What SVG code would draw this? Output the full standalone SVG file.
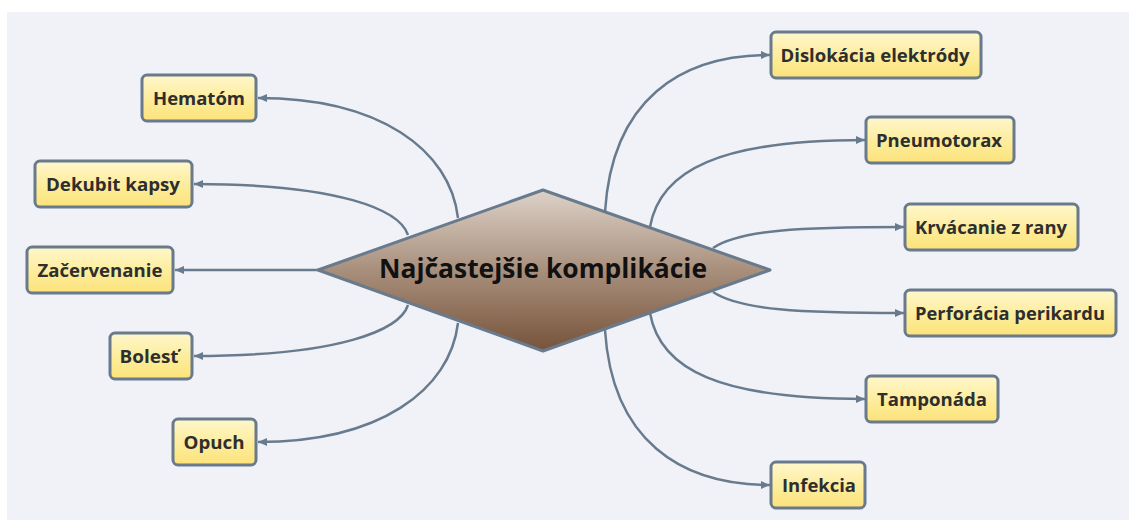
<svg xmlns="http://www.w3.org/2000/svg" width="1129" height="520" viewBox="0 0 1129 520">
  <defs>
    <linearGradient id="topicFill" x1="0" y1="0" x2="0" y2="1">
      <stop offset="0" stop-color="#fff7cc"/>
      <stop offset="0.55" stop-color="#fdec9a"/>
      <stop offset="1" stop-color="#fce27a"/>
    </linearGradient>
    <linearGradient id="centralFill" x1="0" y1="0" x2="0" y2="1">
      <stop offset="0" stop-color="#ddd2c8"/>
      <stop offset="0.5" stop-color="#a88f7c"/>
      <stop offset="1" stop-color="#77533a"/>
    </linearGradient>
    <marker id="arrow" markerUnits="userSpaceOnUse" markerWidth="10" markerHeight="10" viewBox="0 0 10 10" refX="9" refY="5" orient="auto">
      <path d="M0,1 L9,5 L0,9 Z" fill="#687b8e"/>
    </marker>
    <style>
      .topic rect { fill: url(#topicFill); stroke: #687a8c; stroke-width: 3; }
      .topic text { font-family: "Open Sans", "Noto Sans", "DejaVu Sans", sans-serif; font-weight: bold; font-size: 17px; fill: #2e2e2e; text-anchor: middle; }
      .link { fill: none; stroke: #687b8e; stroke-width: 2.5; marker-end: url(#arrow); }
      .central polygon { fill: url(#centralFill); stroke: #687a8c; stroke-width: 3; stroke-linejoin: round; }
      .central text { font-family: "Open Sans", "Noto Sans", "DejaVu Sans", sans-serif; font-weight: bold; font-size: 26px; fill: #111; text-anchor: middle; }
    </style>
  </defs>

  <rect x="7" y="12" width="1122" height="508" fill="#f1f2f8"/>

  <!-- branches from the central topic -->
  <g id="connectors">
    <path class="link" d="M458,218 C450,150 380,98 258,98"/>
    <path class="link" d="M408,235 C400,210 340,184 194,184"/>
    <path class="link" d="M318,270 L175,270"/>
    <path class="link" d="M408,305 C400,330 340,356 194,356"/>
    <path class="link" d="M458,323 C450,390 380,442 258,442"/>
    <path class="link" d="M605,212 C612,100 680,55 770,55"/>
    <path class="link" d="M650,227 C660,170 720,140 865,140"/>
    <path class="link" d="M713,248 C740,230 800,227 904,227"/>
    <path class="link" d="M713,292 C740,310 800,313 904,313"/>
    <path class="link" d="M650,313 C660,370 720,399 865,399"/>
    <path class="link" d="M605,330 C612,440 680,485 770,485"/>
  </g>

  <g id="central" class="central">
    <polygon points="318,270 543,190 770,270 543,351"/>
    <text x="543" y="278" textLength="328" lengthAdjust="spacingAndGlyphs">Najčastejšie komplikácie</text>
  </g>

  <g id="hematom" class="topic">
    <rect x="142" y="75" width="114" height="46" rx="5"/>
    <text x="199" y="105" textLength="92" lengthAdjust="spacingAndGlyphs">Hematóm</text>
  </g>
  <g id="dekubit-kapsy" class="topic">
    <rect x="35" y="161" width="157" height="46" rx="5"/>
    <text x="113" y="191" textLength="134" lengthAdjust="spacingAndGlyphs">Dekubit kapsy</text>
  </g>
  <g id="zacervenanie" class="topic">
    <rect x="27" y="247" width="146" height="46" rx="5"/>
    <text x="100" y="277" textLength="125" lengthAdjust="spacingAndGlyphs">Začervenanie</text>
  </g>
  <g id="bolest" class="topic">
    <rect x="110" y="333" width="82" height="46" rx="5"/>
    <text x="149" y="363" textLength="59" lengthAdjust="spacingAndGlyphs">Bolesť</text>
  </g>
  <g id="opuch" class="topic">
    <rect x="173" y="419" width="83" height="46" rx="5"/>
    <text x="214" y="449" textLength="61" lengthAdjust="spacingAndGlyphs">Opuch</text>
  </g>

  <g id="dislokacia-elektrody" class="topic">
    <rect x="771" y="32" width="210" height="46" rx="5"/>
    <text x="875" y="62" textLength="189" lengthAdjust="spacingAndGlyphs">Dislokácia elektródy</text>
  </g>
  <g id="pneumotorax" class="topic">
    <rect x="866" y="117" width="148" height="46" rx="5"/>
    <text x="939" y="147" textLength="126" lengthAdjust="spacingAndGlyphs">Pneumotorax</text>
  </g>
  <g id="krvacanie-z-rany" class="topic">
    <rect x="905" y="204" width="173" height="46" rx="5"/>
    <text x="991" y="234" textLength="152" lengthAdjust="spacingAndGlyphs">Krvácanie z rany</text>
  </g>
  <g id="perforacia-perikardu" class="topic">
    <rect x="905" y="290" width="211" height="46" rx="5"/>
    <text x="1010" y="320" textLength="190" lengthAdjust="spacingAndGlyphs">Perforácia perikardu</text>
  </g>
  <g id="tamponada" class="topic">
    <rect x="866" y="376" width="132" height="46" rx="5"/>
    <text x="932" y="406" textLength="110" lengthAdjust="spacingAndGlyphs">Tamponáda</text>
  </g>
  <g id="infekcia" class="topic">
    <rect x="771" y="462" width="94" height="46" rx="5"/>
    <text x="819" y="492" textLength="74" lengthAdjust="spacingAndGlyphs">Infekcia</text>
  </g>
</svg>
